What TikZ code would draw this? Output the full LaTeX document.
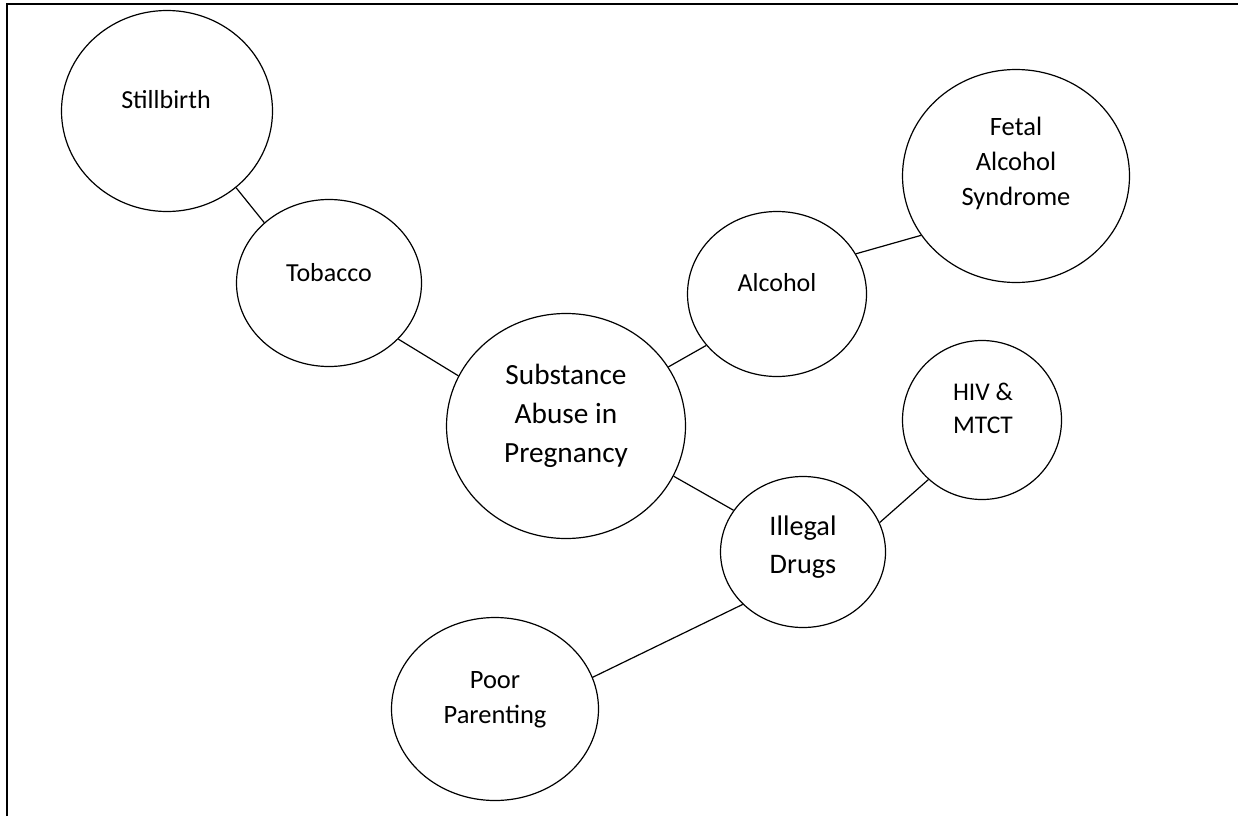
\documentclass[tikz,border=0pt]{standalone}
\usepackage{fontspec}
\setmainfont{Carlito}
\usetikzlibrary{shapes.geometric}
\tikzset{
  bubble/.style={draw=black, line width=1.2pt, ellipse, inner sep=0pt, fill=white},
  link/.style={draw=black, line width=1.2pt},
  lbl/.style={inner sep=0pt, align=center, text=black},
  frame/.style={draw=black, line width=2.4pt}
}
\begin{document}
\begin{tikzpicture}[x=1pt, y=-1pt]
\useasboundingbox (0,0) rectangle (1238,816);
\fill[white] (0,0) rectangle (1238,816);
\draw[frame] (7,816) -- (7,4.2) -- (1238,4.2);

% bubbles
\node[bubble, minimum width=211pt, minimum height=201pt] (still) at (167,111) {};
\node[bubble, minimum width=185pt, minimum height=167pt] (tob) at (329,283) {};
\node[bubble, minimum width=179pt, minimum height=165pt] (alc) at (777,294) {};
\node[bubble, minimum width=227pt, minimum height=213pt] (fas) at (1016,176) {};
\node[bubble, minimum width=239pt, minimum height=225pt] (sub) at (566,426) {};
\node[bubble, minimum width=159pt, minimum height=159pt] (hiv) at (982,420) {};
\node[bubble, minimum width=165pt, minimum height=151pt] (ill) at (803,552) {};
\node[bubble, minimum width=207pt, minimum height=183pt] (poor) at (495,709) {};

% labels
\node[lbl, font=\fontsize{26}{35}\selectfont] (tstill) at (166,100) {Stillbirth};
\node[lbl, font=\fontsize{26}{35}\selectfont] (ttob) at (329,273) {Tobacco};
\node[lbl, font=\fontsize{26}{35}\selectfont] (talc) at (777,283) {Alcohol};
\node[lbl, font=\fontsize{26.5}{35}\selectfont] (tfas) at (1016,163) {Fetal\\Alcohol\\Syndrome};
\node[lbl, font=\fontsize{29.3}{39}\selectfont] (tsub) at (566,416) {Substance\\Abuse in\\Pregnancy};
\node[lbl, font=\fontsize{25.5}{33}\selectfont] (thiv) at (983,408.5) {HIV \&\\MTCT};
\node[lbl, font=\fontsize{28.3}{38}\selectfont] (till) at (803,547) {Illegal\\Drugs};
\node[lbl, font=\fontsize{26.5}{35}\selectfont] (tpoor) at (495,699.5) {Poor\\Parenting};

% connectors
\draw[link] (still.-48.5) -- (tob.137.7);
\draw[link] (tob.-39.6) -- (sub.155.4);
\draw[link] (sub.30.2) -- (alc.-144.4);
\draw[link] (alc.27.4) -- (fas.-148.3);
\draw[link] (sub.-25.1) -- (ill.149.6);
\draw[link] (ill.21.3) -- (hiv.-132.4);
\draw[link] (ill.-139.9) -- (poor.18.6);
\end{tikzpicture}
\end{document}
